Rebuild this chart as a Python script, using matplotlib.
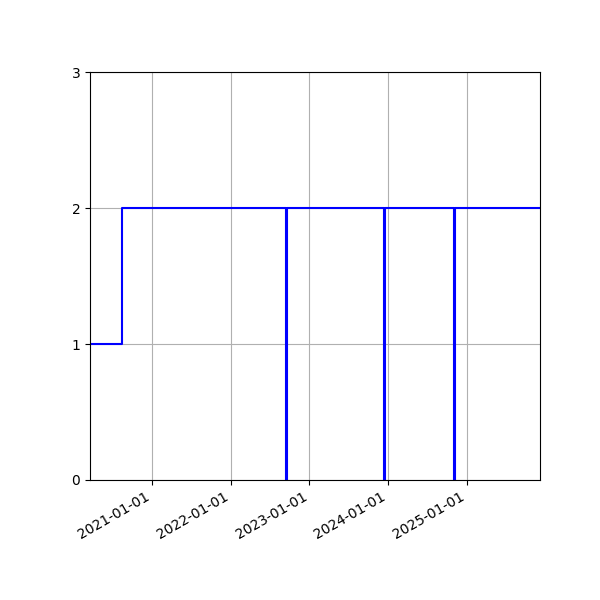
import numpy as np
import matplotlib
matplotlib.use('Agg')
import matplotlib.pyplot as plt
import matplotlib.dates as mdates

dates = np.array(['2020-03-21', '2020-08-15', '2022-09-17', '2022-09-20',
                  '2023-12-13', '2023-12-16', '2024-11-01', '2024-11-04',
                  '2025-12-04'], dtype='datetime64[D]')
values = [1, 2, 0, 2, 0, 2, 0, 2, 2]

fig, ax = plt.subplots(figsize=(6, 6), dpi=100)
ax.step(dates, values, where='post', color='b')

ax.set_xlim(dates[0], dates[-1])
ax.set_ylim(0, 3)
ax.set_yticks([0, 1, 2, 3])
ax.xaxis.set_major_locator(mdates.YearLocator())
ax.xaxis.set_major_formatter(mdates.DateFormatter('%Y-%m-%d'))
ax.grid(True)
fig.autofmt_xdate()
fig.subplots_adjust(left=0.15, right=0.9, top=0.88, bottom=0.2)

fig.savefig('out.png')
